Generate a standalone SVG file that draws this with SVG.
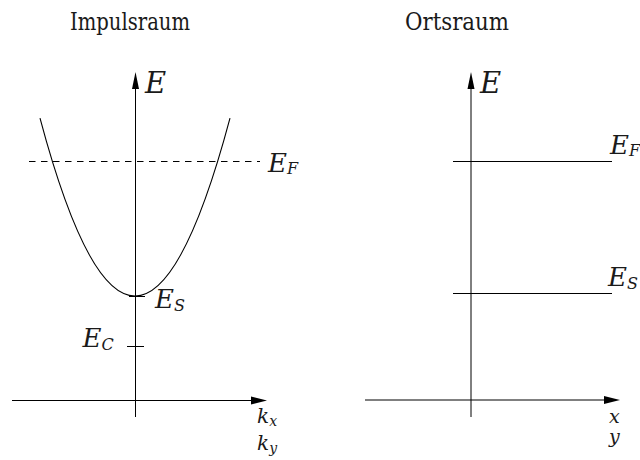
<svg xmlns="http://www.w3.org/2000/svg" width="640" height="460" viewBox="0 0 640 460">
<style>
.ax{stroke:#000;stroke-width:1;fill:none}
.ln{stroke:#000;stroke-width:1.1;fill:none}
text{fill:#1a1a1a}
.m{font-style:italic}
.ah{fill:#000;stroke:none}
</style>
<rect width="640" height="460" fill="#fff"/>
<g id="impulsraum" font-family="DejaVu Serif, Liberation Serif, serif">
  <text x="70" y="29.5" font-size="24" textLength="120" lengthAdjust="spacingAndGlyphs">Impulsraum</text>
  <g id="axes-k">
    <line class="ax" x1="135.5" y1="417" x2="135.5" y2="86"/>
    <polygon class="ah" points="135.5,72 132,89 139,89"/>
    <line class="ax" x1="12" y1="400.5" x2="253" y2="400.5"/>
    <polygon class="ah" points="267,400.5 251,396.5 251,404.5"/>
    <text class="m" x="145" y="92.5" font-size="29">E</text>
    <text class="m" x="257" y="423" font-size="20">k<tspan font-size="14" dy="3">x</tspan></text>
    <text class="m" x="257" y="450" font-size="20">k<tspan font-size="14" dy="3">y</tspan></text>
  </g>
  <path class="ln" d="M40,118.2 Q135,473.8 230,118.2"/>
  <line class="ax" x1="29" y1="161.5" x2="260" y2="161.5" stroke-dasharray="6.5 5.5"/>
  <text class="m" x="268" y="171.5" font-size="26">E<tspan font-size="16" dy="2.5">F</tspan></text>
  <line class="ax" x1="129" y1="296.5" x2="145" y2="296.5"/>
  <text class="m" x="155" y="308" font-size="26">E<tspan font-size="16" dy="3">S</tspan></text>
  <line class="ax" x1="127" y1="346.5" x2="144" y2="346.5"/>
  <text class="m" x="82.5" y="347" font-size="26">E<tspan font-size="16" dy="3">C</tspan></text>
</g>
<g id="ortsraum" font-family="DejaVu Serif, Liberation Serif, serif">
  <text x="405" y="30" font-size="24" textLength="104" lengthAdjust="spacingAndGlyphs">Ortsraum</text>
  <g id="axes-x">
    <line class="ax" x1="471" y1="417" x2="471" y2="86"/>
    <polygon class="ah" points="471,72 467.5,89 474.5,89"/>
    <line class="ax" x1="365" y1="400" x2="606" y2="400"/>
    <polygon class="ah" points="620,400 604,396 604,404"/>
    <text class="m" x="480" y="92.5" font-size="29">E</text>
    <text class="m" x="609" y="423" font-size="19">x</text>
    <text class="m" x="609" y="443" font-size="19">y</text>
  </g>
  <line class="ln" x1="453" y1="161.5" x2="612" y2="161.5"/>
  <text class="m" x="610" y="153.5" font-size="26">E<tspan font-size="16" dy="2.5">F</tspan></text>
  <line class="ln" x1="453" y1="293.5" x2="612" y2="293.5"/>
  <text class="m" x="608" y="285.5" font-size="26">E<tspan font-size="16" dy="3">S</tspan></text>
</g>
</svg>
